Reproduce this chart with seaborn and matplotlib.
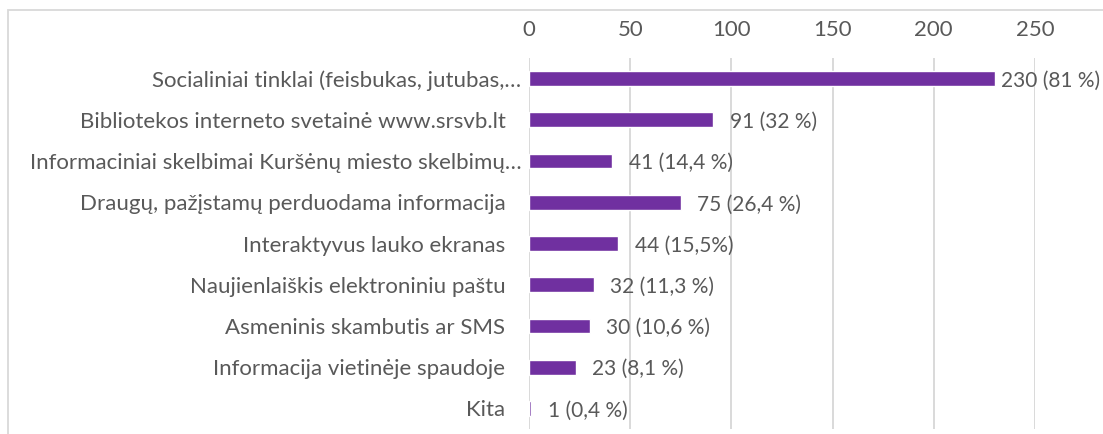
import matplotlib
matplotlib.use("Agg")
import matplotlib.pyplot as plt
import seaborn as sns
import pandas as pd
from matplotlib.patches import Rectangle

categories = [
    "Socialiniai tinklai (feisbukas, jutubas,…",
    "Bibliotekos interneto svetainė www.srsvb.lt",
    "Informaciniai skelbimai Kuršėnų miesto skelbimų…",
    "Draugų, pažįstamų perduodama informacija",
    "Interaktyvus lauko ekranas",
    "Naujienlaiškis elektroniniu paštu",
    "Asmeninis skambutis ar SMS",
    "Informacija vietinėje spaudoje",
    "Kita",
]
values = [230, 91, 41, 75, 44, 32, 30, 23, 1]
value_labels = [
    "230 (81 %)", "91 (32 %)", "41 (14,4 %)", "75 (26,4 %)", "44 (15,5%)",
    "32 (11,3 %)", "30 (10,6 %)", "23 (8,1 %)", "1 (0,4 %)",
]
x_ticks = [0, 50, 100, 150, 200, 250]

TEXT = "#595959"
GRID = "#D9D9D9"
BAR = "#7030A0"
FS = 16
FS_LAB = 15

sns.set_theme(style="white")
plt.rcParams["font.family"] = ["Lato", "DejaVu Sans"]

df = pd.DataFrame({"cat": categories, "val": values})

fig = plt.figure(figsize=(11.03, 4.34), dpi=100)
ax = fig.add_axes([529 / 1103, 1 - 429 / 434, (1035 - 529) / 1103, (429 - 58) / 434])

sns.barplot(data=df, x="val", y="cat", orient="h", color=BAR, width=0.36,
            saturation=1, ax=ax, zorder=3)

ax.set_xlim(0, 250)
ax.set_xticks(x_ticks)
ax.xaxis.tick_top()
ax.tick_params(axis="x", length=0, pad=13, labelsize=FS, labelcolor=TEXT)
ax.tick_params(axis="y", length=0, labelsize=FS, labelcolor=TEXT)
ax.set_xlabel("")
ax.set_ylabel("")
for s in ax.spines.values():
    s.set_visible(False)
ax.grid(axis="x", color=GRID, linewidth=1.4, zorder=0)
ax.grid(axis="y", visible=False)

for i, t in enumerate(ax.yaxis.get_major_ticks()):
    lab = categories[i]
    t.set_pad(5.5 if lab.endswith("…") else 17)

for i, (v, lab) in enumerate(zip(values, value_labels)):
    dx = 4.5 if i == 0 else 12
    ax.annotate(lab, xy=(v, i), xytext=(dx, -1.5), textcoords="offset points",
                ha="left", va="center", fontsize=FS_LAB, color=TEXT,
                annotation_clip=False)

fig.patches.append(Rectangle((8 / 1103, -0.1), 1.2, 1 - 10 / 434 + 0.1,
                             transform=fig.transFigure, fill=False,
                             edgecolor=GRID, linewidth=1.3, figure=fig))

fig.savefig("out.png", dpi=100)
